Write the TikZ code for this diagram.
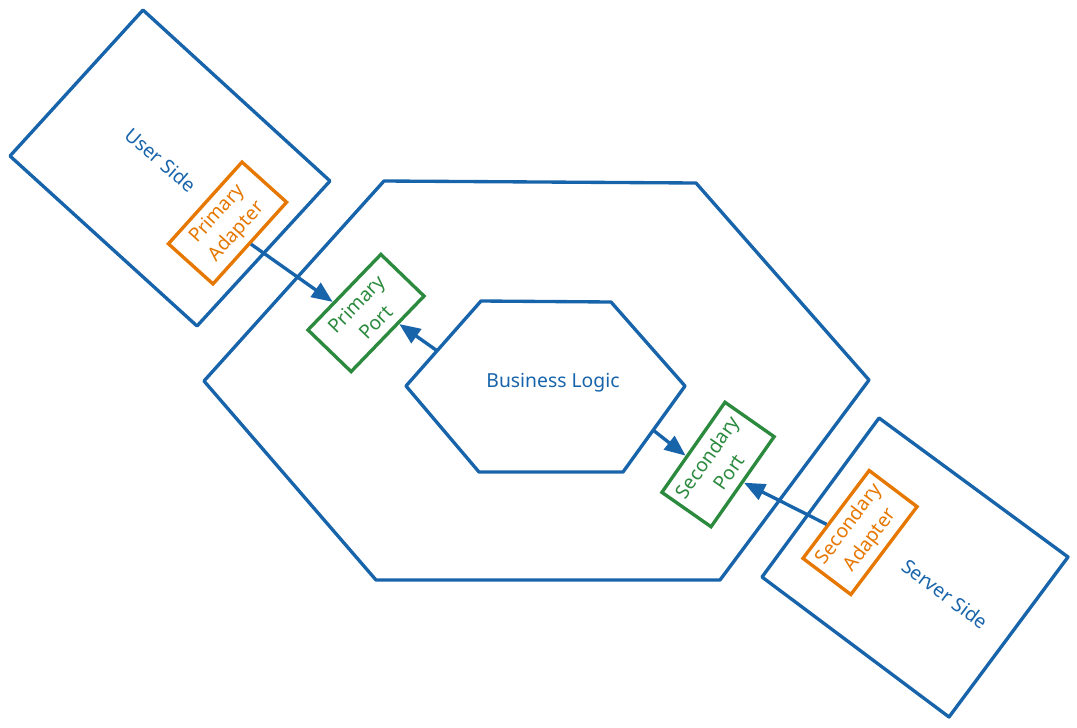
\documentclass[tikz,border=0pt]{standalone}
\usepackage{fontspec}
\setmainfont{Noto Sans}
\usetikzlibrary{positioning, calc, arrows.meta}
\definecolor{hexblue}{HTML}{1864ab}
\definecolor{adapt}{HTML}{e67700}
\definecolor{portgreen}{HTML}{2b8a3e}

\tikzset{
  zone/.style={draw=hexblue, line width=1.9pt, line join=round},
  adapterbox/.style={draw=adapt, text=adapt, fill=white, line width=1.9pt,
                     minimum width=2.2cm, minimum height=1.2cm, inner sep=0pt,
                     align=center, font=\fontsize{11}{15}\selectfont},
  portbox/.style={draw=portgreen, text=portgreen, fill=white, line width=1.9pt,
                  minimum width=2.1cm, minimum height=1.2cm, inner sep=0pt,
                  align=center, font=\fontsize{11}{15}\selectfont},
  zonelabel/.style={text=hexblue, font=\fontsize{11}{15}\selectfont},
  link/.style={hexblue, line width=1.9pt, -{Triangle[length=0.42cm, width=0.34cm]}}
}

\begin{document}
\begin{tikzpicture}[x=0.02cm, y=-0.02cm]
  \useasboundingbox (0,0) rectangle (1077,727);

  % outer sides
  \draw[zone] (143,10) -- (330,181) -- (197,326) -- (10,156) -- cycle;
  \draw[zone] (879,418) -- (1068,557) -- (949,717) -- (762,577) -- cycle;
  \node[zonelabel, rotate=-41] (usr) at (161,160) {User Side};
  \node[zonelabel, rotate=-37] (srv) at (945,594) {Server Side};

  % hexagons
  \draw[zone] (384,181) -- (696,183) -- (869,380) -- (720,580) -- (376,580) -- (204,381) -- cycle;
  \draw[zone] (481,301) -- (611,302) -- (685,386) -- (623,472) -- (479,472) -- (406,386) -- cycle;
  \node[zonelabel] (core) at (553,383) {Business Logic};
  \coordinate (coreOut) at (436,350);
  \coordinate (coreIn) at (653,430);

  % adapters and ports
  \node[adapterbox, rotate=48] (padapt) at (227.5,223) {Primary\\Adapter};
  \node[portbox, rotate=46] (pport) at (366,313) {Primary\\Port};
  \node[portbox, rotate=55, minimum width=2.2cm] (sport) at (718,464.5) {Secondary\\Port};
  \node[adapterbox, rotate=53] (sadapt) at (860,532.5) {Secondary\\Adapter};

  % links
  \draw[link] (padapt.south) -- ($(pport.north west)!0.36!(pport.north east)$);
  \draw[link] (coreOut) -- ($(pport.south east)!0.36!(pport.south west)$);
  \draw[link] (coreIn) -- ($(sport.north west)!0.4!(sport.north east)$);
  \draw[link] ($(sadapt.north west)!0.38!(sadapt.north east)$) -- ($(sport.south east)!0.5!(sport.south west)$);
\end{tikzpicture}
\end{document}
